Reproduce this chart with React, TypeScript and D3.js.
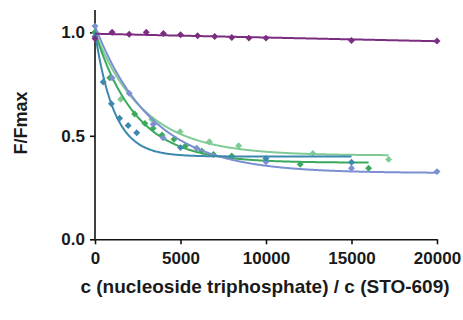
import React, { useEffect, useRef } from 'react';
import * as d3 from 'd3';

// tick labels
const xTicks = [0, 5000, 10000, 15000, 20000];
const yTicks = [0, 0.5, 1.0];

const seriesNames = ['lightGreen', 'green', 'blueViolet', 'teal', 'purple'];
const colors = [
    '#80CB95', // light green
    '#3BA95D', // green
    '#7B8FD1', // blue violet
    '#3C88AE', // teal
    '#7B2D7F'  // purple
];

// measured points: c(NTP)/c(STO-609) vs F/Fmax
const lightGreenX = [0, 1500, 3320, 4980, 6690, 8400, 12740, 17170];
const lightGreenY = [1.0, 0.676, 0.58, 0.52, 0.471, 0.452, 0.415, 0.386];

const greenX = [0, 860, 2320, 2920, 3400, 3920, 4620, 5300, 6240, 6930, 8000, 12000, 16000];
const greenY = [1.0, 0.78, 0.605, 0.56, 0.536, 0.504, 0.483, 0.452, 0.427, 0.41, 0.402, 0.362, 0.343];

const blueVioletX = [0, 1000, 2000, 3410, 3980, 5950, 10000, 15000, 20000];
const blueVioletY = [1.03, 0.78, 0.705, 0.556, 0.49, 0.44, 0.375, 0.343, 0.327];

const tealX = [0, 480, 960, 1440, 1940, 2440, 5000, 10000, 15000];
const tealY = [0.98, 0.76, 0.655, 0.585, 0.55, 0.515, 0.443, 0.39, 0.372];

const purpleX = [0, 1000, 2000, 3000, 4000, 5000, 6000, 7000, 8000, 9000, 10000, 15000, 20000];
const purpleY = [0.97, 1.0, 0.991, 1.0, 0.994, 0.988, 0.983, 0.98, 0.975, 0.972, 0.972, 0.96, 0.958];

// one phase decay fits: y = plateau + (start - plateau) * exp(-k x)
const fitPlateau = [0.405, 0.37, 0.32, 0.40, 0];
const fitStart = [1.0, 1.0, 1.03, 1.0, 0.993];
const fitRate = [0.00035, 0.00042, 0.0003, 0.0009, 0.00000185];

const xData = [lightGreenX, greenX, blueVioletX, tealX, purpleX];
const yData = [lightGreenY, greenY, blueVioletY, tealY, purpleY];

const FONT = '"Liberation Sans", Arial, sans-serif';

const App = () => {
    const chRef = useRef<SVGSVGElement>(null);

    useEffect(() => {
        const svg = d3.select(chRef.current);
        svg.selectAll('*').remove();

        const x = d3.scaleLinear().domain([0, 20000]).range([95, 437]);
        const y = d3.scaleLinear().domain([0, 1.1]).range([239.3, 11.6]);

        // x axis
        const gx = svg.append('g')
            .attr('transform', `translate(0, ${y(0)})`)
            .call(d3.axisBottom(x).tickValues(xTicks).tickSize(5).tickSizeOuter(0).tickPadding(8).tickFormat(d3.format('d')));
        // y axis
        const gy = svg.append('g')
            .attr('transform', `translate(${x(0)}, 0)`)
            .call(d3.axisLeft(y).tickValues(yTicks).tickSize(5).tickSizeOuter(0).tickPadding(5).tickFormat(d3.format('.1f')));

        [gx, gy].forEach(g => {
            g.select('.domain').attr('stroke', '#111').attr('stroke-width', 1.6);
            g.selectAll('.tick line').attr('stroke', '#111').attr('stroke-width', 1.6);
            g.selectAll('.tick text')
                .attr('fill', '#1a1a1a')
                .style('font-family', FONT)
                .style('font-size', '17px')
                .style('font-weight', 'bold');
        });
        // y domain reaches a bit above 1.1
        gy.select('.domain').attr('d', `M0,${y(0)}V10`);

        const line = d3.line<number>()
            .x(d => x(d))
            .curve(d3.curveLinear);

        seriesNames.forEach((name, i) => {
            const xs = xData[i];
            const ys = yData[i];
            const xMax = d3.max(xs) as number;
            const fit = (v: number) => fitPlateau[i] + (fitStart[i] - fitPlateau[i]) * Math.exp(-fitRate[i] * v);
            const samples = d3.range(0, xMax, 50).concat([xMax]);

            svg.append('path')
                .attr('class', 'fit-' + name)
                .attr('d', line.y(d => y(fit(d)))(samples))
                .attr('fill', 'none')
                .attr('stroke', colors[i])
                .attr('stroke-width', 2);

            svg.append('g')
                .selectAll('path')
                .data(xs)
                .enter()
                .append('path')
                .attr('d', d3.symbol().type(d3.symbolSquare).size(24))
                .attr('transform', (d, j) => `translate(${x(d)},${y(ys[j])}) rotate(45)`)
                .attr('fill', colors[i]);
        });

        // axis titles
        svg.append('text')
            .text('F/Fmax')
            .attr('transform', 'translate(27, 123) rotate(-90)')
            .attr('text-anchor', 'middle')
            .style('font-family', FONT)
            .style('font-size', '18px')
            .style('font-weight', 'bold')
            .style('fill', '#1a1a1a');

        svg.append('text')
            .text('c (nucleoside triphosphate) / c (STO-609)')
            .attr('x', 265)
            .attr('y', 293)
            .attr('text-anchor', 'middle')
            .style('font-family', FONT)
            .style('font-size', '19px')
            .style('font-weight', 'bold')
            .style('fill', '#1a1a1a');
    }, []);

    return (
        <svg ref={chRef} width={463} height={320}
            style={{ position: 'absolute', left: 0, top: 0, background: '#fff' }} />
    );
};

export default App;
